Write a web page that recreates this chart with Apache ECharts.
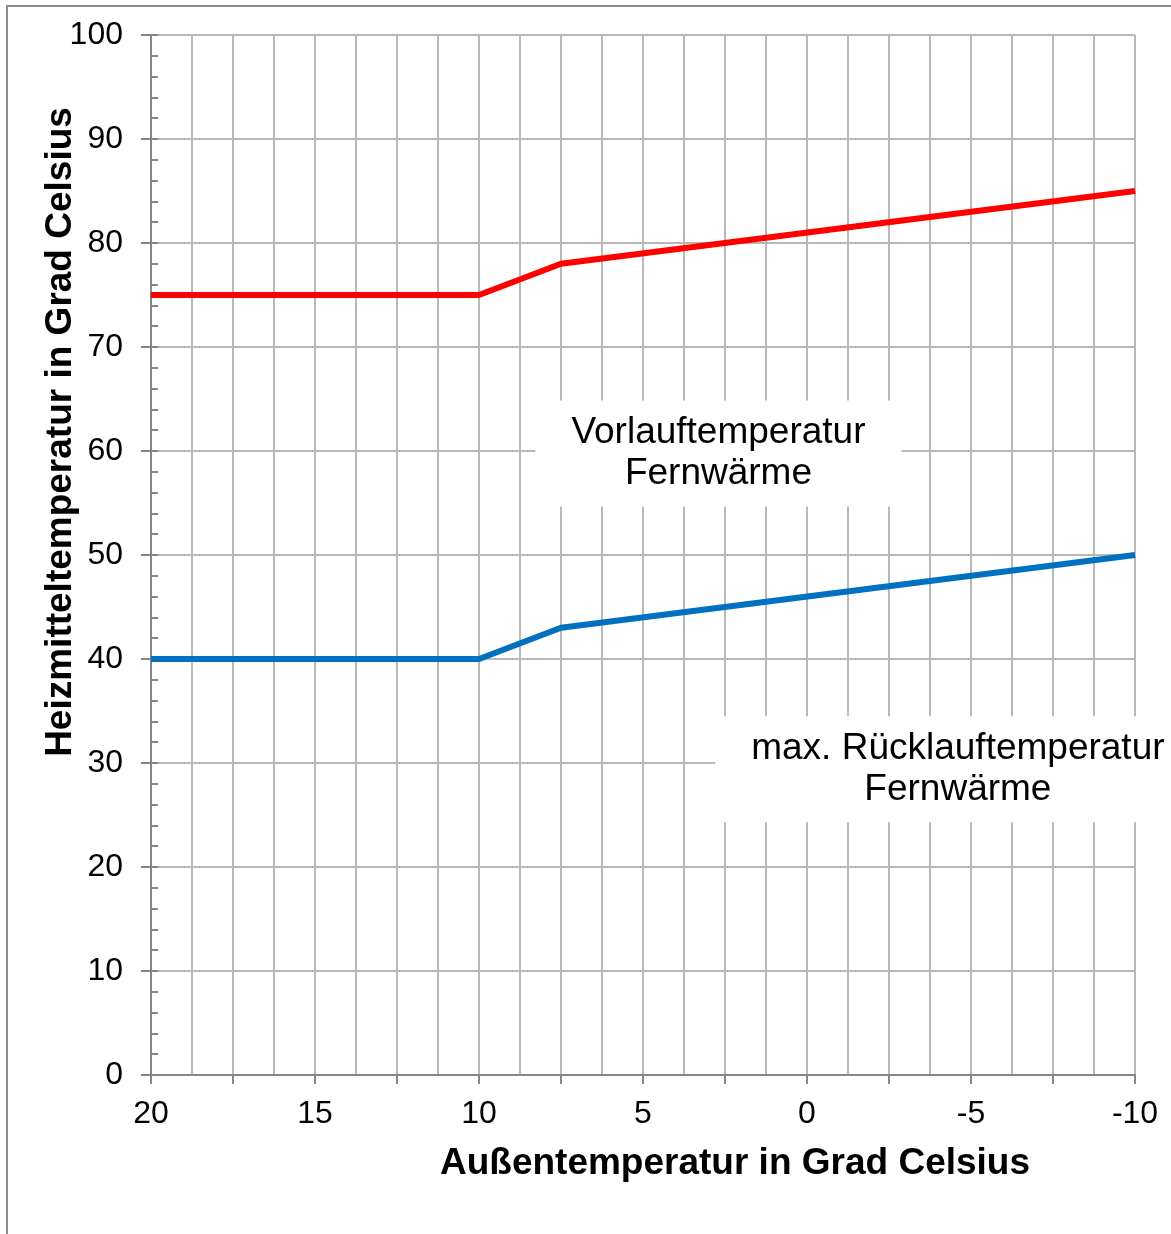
<!DOCTYPE html>
<html>
<head>
<meta charset="utf-8">
<script src="https://cdn.jsdelivr.net/npm/echarts@6/dist/echarts.min.js"></script>
<style>
html,body{margin:0;padding:0;background:#fff;}
#chart{width:1171px;height:1234px;}
</style>
</head>
<body>
<div id="chart"></div>
<script>
// Data
const vorlauf = [[20, 75], [10, 75], [7.5, 78], [-10, 85]];
const ruecklauf = [[20, 40], [10, 40], [7.5, 43], [-10, 50]];
const annotations = [
  { name: 'Vorlauftemperatur\nFernwärme', value: [2.7, 59.75] },
  { name: 'max. Rücklauftemperatur\nFernwärme', value: [-4.6, 29.4] }
];
const xTitle = 'Außentemperatur in Grad Celsius';
const yTitle = 'Heizmitteltemperatur in Grad Celsius';

const FONT = '"Liberation Sans", Arial, sans-serif';
const chart = echarts.init(document.getElementById('chart'));
const gridColor = '#b8b8b8';
const axisColor = '#868686';

chart.setOption({
  animation: false,
  backgroundColor: '#fff',
  grid: { left: 151, right: 36, top: 35, bottom: 159, containLabel: false },
  xAxis: {
    type: 'value', min: -10, max: 20, interval: 2.5, inverse: true,
    axisLine: { show: true, onZero: false, lineStyle: { color: axisColor, width: 2 } },
    axisTick: { show: true, inside: false, length: 9, lineStyle: { color: axisColor, width: 2 } },
    minorTick: { show: false, splitNumber: 2 },
    splitLine: { show: true, lineStyle: { color: gridColor, width: 2 } },
    minorSplitLine: { show: true, lineStyle: { color: gridColor, width: 2 } },
    axisLabel: {
      margin: 23, fontSize: 32, color: '#000', fontFamily: FONT,
      formatter: v => (Math.abs(v % 5) < 1e-9 ? String(v) : '')
    }
  },
  yAxis: [{
    type: 'value', min: 0, max: 100, interval: 10, position: 'left',
    axisLine: { show: true, onZero: false, lineStyle: { color: axisColor, width: 2 } },
    axisTick: { show: true, inside: false, length: 10, lineStyle: { color: axisColor, width: 2 } },
    splitLine: { show: true, lineStyle: { color: gridColor, width: 2 } },
    axisLabel: { margin: 28, fontSize: 32, color: '#000', fontFamily: FONT }
  }, {
    type: 'value', min: 0, max: 100, interval: 2, position: 'left',
    axisLine: { show: false, onZero: false },
    axisTick: { show: true, inside: true, length: 7, lineStyle: { color: axisColor, width: 2 } },
    splitLine: { show: false },
    axisLabel: { show: false }
  }],
  graphic: [
    { type: 'rect', silent: true, z: -10,
      shape: { x: 7, y: 6, width: 1300, height: 1400 },
      style: { fill: 'none', stroke: '#8c8c8c', lineWidth: 2 } },
    { type: 'text', x: 735, y: 1164,
      style: { text: xTitle, font: 'bold 37px ' + FONT, fill: '#000',
               textAlign: 'center', textVerticalAlign: 'middle' } },
    { type: 'text', x: 61, y: 432, rotation: Math.PI / 2,
      style: { text: yTitle, font: 'bold 37px ' + FONT, fill: '#000',
               textAlign: 'center', textVerticalAlign: 'middle' } }
  ],
  series: [
    { type: 'line', data: vorlauf, symbol: 'none', z: 3,
      lineStyle: { color: '#ff0000', width: 6 } },
    { type: 'line', data: ruecklauf, symbol: 'none', z: 3,
      lineStyle: { color: '#0070c0', width: 6 } },
    { type: 'scatter', data: annotations, symbolSize: 0, z: 4,
      itemStyle: { opacity: 1, color: 'transparent' },
      emphasis: { disabled: true },
      label: { show: true, position: 'inside', formatter: p => p.name, opacity: 1,
               fontSize: 37, lineHeight: 41, fontFamily: FONT, color: '#000', align: 'center',
               backgroundColor: '#ffffff', padding: [12, 36, 12, 36] } }
  ]
});
</script>
</body>
</html>
